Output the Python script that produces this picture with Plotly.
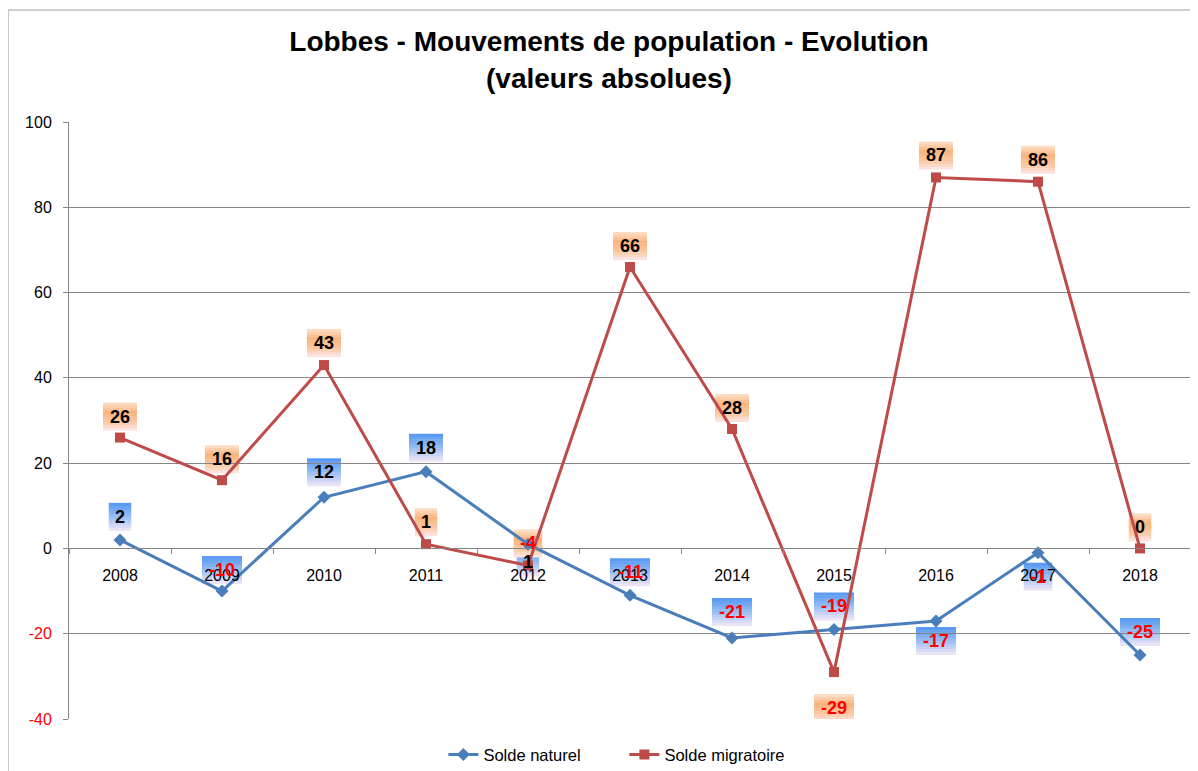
import plotly.graph_objects as go

years = ["2008", "2009", "2010", "2011", "2012", "2013", "2014", "2015", "2016", "2017", "2018"]
solde_naturel = [2, -10, 12, 18, 1, -11, -21, -19, -17, -1, -25]
solde_migratoire = [26, 16, 43, 1, -4, 66, 28, -29, 87, 86, 0]
y_ticks = [-40, -20, 0, 20, 40, 60, 80, 100]

# label vertical offsets in pixels (style only)
off_nat = [23, 21, 25, 24, -18, 23, 26, 23, -20, -24, 23]
off_mig = [21, 21, 22, 22, 22, 21, 21, -36, 22, 22, 21]

BLUE = "#4A7EBB"
RED = "#BE4B48"
FONT = "Liberation Sans"
GRID = "#868686"

# gradient stops (top -> bottom) for label boxes
BLUE_GRAD = [(0.0, "#5596F2"), (0.45, "#8FBAF2"), (1.0, "#F4E8F6")]
ORANGE_GRAD = [(0.0, "#FDE2CC"), (0.35, "#FAB47E"), (0.7, "#FBC9A2"), (1.0, "#FCE8EC")]


def hex2rgb(h):
    h = h.lstrip("#")
    return tuple(int(h[k:k + 2], 16) for k in (0, 2, 4))


def grad_color(stops, t):
    for (t0, c0), (t1, c1) in zip(stops[:-1], stops[1:]):
        if t <= t1:
            f = (t - t0) / (t1 - t0) if t1 > t0 else 0
            a, b = hex2rgb(c0), hex2rgb(c1)
            return "rgb(%d,%d,%d)" % tuple(round(a[k] + (b[k] - a[k]) * f) for k in range(3))
    return stops[-1][1]


idx = list(range(len(years)))

fig = go.Figure()
fig.add_trace(go.Scatter(x=idx, y=solde_naturel, mode="lines+markers", name="Solde naturel",
                         line=dict(color=BLUE, width=3), marker=dict(symbol="diamond", size=10, color=BLUE)))
fig.add_trace(go.Scatter(x=idx, y=solde_migratoire, mode="lines+markers", name="Solde migratoire",
                         line=dict(color=RED, width=3), marker=dict(symbol="square", size=10, color=RED)))

ann = []
shapes = []
H = 28
NB = 10
for vals, offs, stops in ((solde_naturel, off_nat, BLUE_GRAD), (solde_migratoire, off_mig, ORANGE_GRAD)):
    for i, v, o in zip(idx, vals, offs):
        txt = "%d" % v
        w = 11 + sum(6 if ch == "-" else 11.5 for ch in txt)
        top = o + H / 2
        for b in range(NB):
            y1 = top - b * H / NB
            y0 = top - (b + 1) * H / NB - (0.6 if b < NB - 1 else 0)
            shapes.append(dict(type="rect", xref="x", yref="y", xsizemode="pixel", ysizemode="pixel",
                               xanchor=i, yanchor=v, x0=-w / 2, x1=w / 2, y0=y0, y1=y1,
                               fillcolor=grad_color(stops, (b + 0.5) / NB), line=dict(width=0),
                               layer="below"))
        ann.append(dict(x=i, y=v, xref="x", yref="y", text="<b>%s</b>" % txt, showarrow=False,
                        yshift=o, font=dict(family=FONT, size=18, color="#FF0000" if v < 0 else "#000000")))

shapes.append(dict(type="rect", xref="paper", yref="paper", x0=-0.0543, x1=1.05, y0=-0.2, y1=1.1876,
                   line=dict(color="#A0A0A0", width=1), fillcolor="rgba(0,0,0,0)"))

fig.update_layout(
    width=1190, height=763,
    margin=dict(l=61, r=7, t=114, b=52, autoexpand=False),
    paper_bgcolor="white", plot_bgcolor="white",
    font=dict(family=FONT, size=16, color="black"),
    title=dict(text="<b>Lobbes - Mouvements de population - Evolution<br>(valeurs absolues)</b>",
               x=0.505, xanchor="center", y=0.9435, yanchor="middle",
               font=dict(family=FONT, size=28, color="black")),
    showlegend=True,
    legend=dict(orientation="h", x=0.495, xanchor="center", y=-0.06, yanchor="middle",
                font=dict(family=FONT, size=16.5), entrywidth=136, entrywidthmode="pixels"),
    annotations=ann,
    shapes=shapes,
)
fig.update_xaxes(range=[-0.5, 10.5], anchor="free", position=40 / 140, automargin=False,
                 tickmode="array", tickvals=idx, ticktext=years, ticks="",
                 showline=True, linecolor=GRID, linewidth=1, showgrid=False, zeroline=False,
                 minor=dict(tickmode="array", tickvals=[i - 0.5 for i in idx] + [10.5],
                            ticks="outside", ticklen=5, tickcolor=GRID, showgrid=False),
                 ticklabelstandoff=12, tickfont=dict(size=16))
fig.update_yaxes(range=[-40, 100], tickmode="array", tickvals=y_ticks,
                 ticktext=['<span style="color:#FF0000">%d</span>' % t if t < 0 else str(t) for t in y_ticks],
                 showgrid=True, gridcolor=GRID, gridwidth=1, automargin=False,
                 showline=True, linecolor=GRID, linewidth=1, zeroline=False,
                 ticks="outside", ticklen=5, tickcolor=GRID, ticklabelstandoff=8,
                 tickfont=dict(size=16))

fig.write_html("out.html")
